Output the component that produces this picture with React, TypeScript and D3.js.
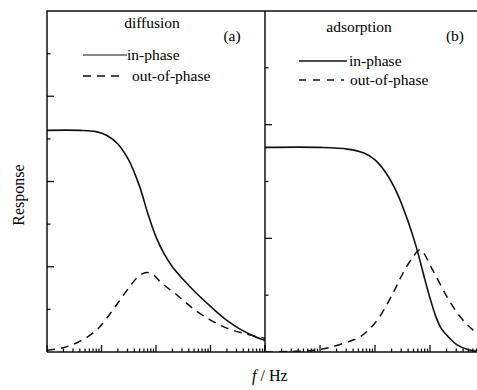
import * as d3 from 'd3';
import React from 'react';

// log10(f) positions and response values
const diffInPhaseLogF = [0, 0.6, 0.9, 1.1, 1.3, 1.5, 1.7, 1.85, 2.0, 2.15, 2.3, 2.5, 2.7, 3.0, 3.3, 3.55, 3.8, 4.0];
const diffInPhase = [5.2, 5.2, 5.17, 5.08, 4.88, 4.5, 3.88, 3.25, 2.7, 2.3, 2.0, 1.7, 1.43, 1.07, 0.74, 0.53, 0.37, 0.27];
const diffOutPhaseLogF = [0, 0.3, 0.6, 0.9, 1.1, 1.3, 1.5, 1.65, 1.8, 1.92, 2.1, 2.4, 2.7, 3.0, 3.3, 3.6, 4.0];
const diffOutPhase = [0.04, 0.1, 0.25, 0.5, 0.8, 1.15, 1.5, 1.74, 1.86, 1.84, 1.62, 1.32, 1.0, 0.75, 0.56, 0.44, 0.32];

const adsInPhaseLogF = [0, 1.0, 1.5, 1.8, 2.0, 2.2, 2.4, 2.6, 2.75, 2.9, 3.0, 3.1, 3.2, 3.35, 3.5, 3.7, 4.0];
const adsInPhase = [3.6, 3.6, 3.57, 3.5, 3.38, 3.15, 2.8, 2.3, 1.85, 1.3, 0.95, 0.64, 0.42, 0.25, 0.12, 0.04, 0.0];
const adsOutPhaseLogF = [0, 0.5, 0.9, 1.13, 1.45, 1.75, 2.04, 2.33, 2.51, 2.69, 2.82, 3.05, 3.31, 3.55, 3.78, 4.0];
const adsOutPhase = [0.0, 0.01, 0.03, 0.07, 0.16, 0.28, 0.56, 1.04, 1.39, 1.67, 1.8, 1.44, 0.97, 0.62, 0.39, 0.25];

const panelTitles = ['diffusion', 'adsorption'];
const panelLetters = ['(a)', '(b)'];
const legendLabels = ['in-phase', 'out-of-phase'];

const W = 477;
const H = 390;
const top = 11;
const bottom = 352;
const font = "'Liberation Serif', 'Tinos', 'Times New Roman', Times, 'DejaVu Serif', serif";
const txt = { fontFamily: font, fontSize: '15.5px' };

type Panel = {
  x0: number;
  x1: number;
  yMax: number;
  inX: number[];
  inY: number[];
  outX: number[];
  outY: number[];
};

function PanelView({ p, idx }: { p: Panel; idx: number }) {
  const x = d3.scaleLog().domain([1, 1e4]).range([p.x0, p.x1]);
  const y = d3.scaleLinear().domain([0, p.yMax]).range([bottom, top]);
  const line = d3
    .line<[number, number]>()
    .x((d) => x(Math.pow(10, d[0])))
    .y((d) => y(d[1]))
    .curve(d3.curveCatmullRom.alpha(0.5));
  const inPts = p.inX.map((v, i) => [v, p.inY[i]] as [number, number]);
  const outPts = p.outX.map((v, i) => [v, p.outY[i]] as [number, number]);
  const xTicks = x.ticks();
  const yTicks = d3.range(1, p.yMax);

  const lg = idx === 0
    ? { lx0: 83, lx1: 127, tx: [127, 132], ly: [55, 76], title: 152, letter: 232 }
    : { lx0: 299, lx1: 347, tx: [349, 350], ly: [61, 80], title: 359, letter: 455 };

  return (
    <g>
      <defs>
        <clipPath id={`clip${idx}`}>
          <rect x={p.x0} y={top} width={p.x1 - p.x0} height={bottom - top} />
        </clipPath>
      </defs>
      {xTicks.map((t, i) => {
        const major = Math.abs(Math.log10(t) - Math.round(Math.log10(t))) < 1e-9;
        return (
          <line key={'x' + i} x1={x(t)} x2={x(t)} y1={bottom} y2={bottom - (major ? 7 : 3.5)}
            stroke="#111" strokeWidth={1.3} />
        );
      })}
      {yTicks.map((t) => (
        <line key={'y' + t} x1={p.x0} x2={p.x0 + (t % 2 === 0 ? 7 : 3.5)} y1={y(t)} y2={y(t)}
          stroke="#111" strokeWidth={1.3} />
      ))}
      <g clipPath={`url(#clip${idx})`}>
        <path d={line(outPts) || ''} fill="none" stroke="#111" strokeWidth={1.5} strokeDasharray="8,6" />
        <path d={line(inPts) || ''} fill="none" stroke="#111" strokeWidth={1.6} />
      </g>
      <text x={lg.title} y={idx === 0 ? 28 : 32} textAnchor="middle" style={txt}>
        {panelTitles[idx]}
      </text>
      <text x={lg.letter} y={41} textAnchor="middle" style={txt}>
        {panelLetters[idx]}
      </text>
      <line x1={lg.lx0} x2={lg.lx1} y1={lg.ly[0]} y2={lg.ly[0]} stroke="#111" strokeWidth={idx === 0 ? 1.1 : 1.6} />
      <text x={lg.tx[0]} y={lg.ly[0] + 5} style={txt}>{legendLabels[0]}</text>
      <line x1={lg.lx0} x2={lg.lx1 - 3} y1={lg.ly[1]} y2={lg.ly[1]} stroke="#111" strokeWidth={1.5}
        strokeDasharray={idx === 0 ? '8,6' : '7,7'} />
      <text x={lg.tx[1]} y={lg.ly[1] + 5} style={txt}>{legendLabels[1]}</text>
    </g>
  );
}

export default function App() {
  const panels: Panel[] = [
    { x0: 47, x1: 265, yMax: 8, inX: diffInPhaseLogF, inY: diffInPhase, outX: diffOutPhaseLogF, outY: diffOutPhase },
    { x0: 265, x1: 485, yMax: 6, inX: adsInPhaseLogF, inY: adsInPhase, outX: adsOutPhaseLogF, outY: adsOutPhase },
  ];
  return (
    <svg width={W} height={H} style={{ position: 'absolute', left: 0, top: 0, background: '#fff' }}>
      <rect x={0} y={0} width={W} height={H} fill="#fff" />
      {panels.map((p, i) => <PanelView key={i} p={p} idx={i} />)}
      {/* frame */}
      <path d={`M47,${bottom}V${top}H${W}`} fill="none" stroke="#111" strokeWidth={1.5} />
      <line x1={47} x2={W} y1={bottom} y2={bottom} stroke="#111" strokeWidth={1.5} />
      <line x1={265} x2={265} y1={top} y2={bottom} stroke="#111" strokeWidth={1.5} />
      <text transform="translate(24,195) rotate(-90)" textAnchor="middle" style={{ ...txt, fontSize: '16px' }}>
        Response
      </text>
      <text x={252} y={381} style={{ ...txt, fontSize: '16px' }}>
        <tspan fontStyle="italic">f</tspan> / Hz
      </text>
    </svg>
  );
}
